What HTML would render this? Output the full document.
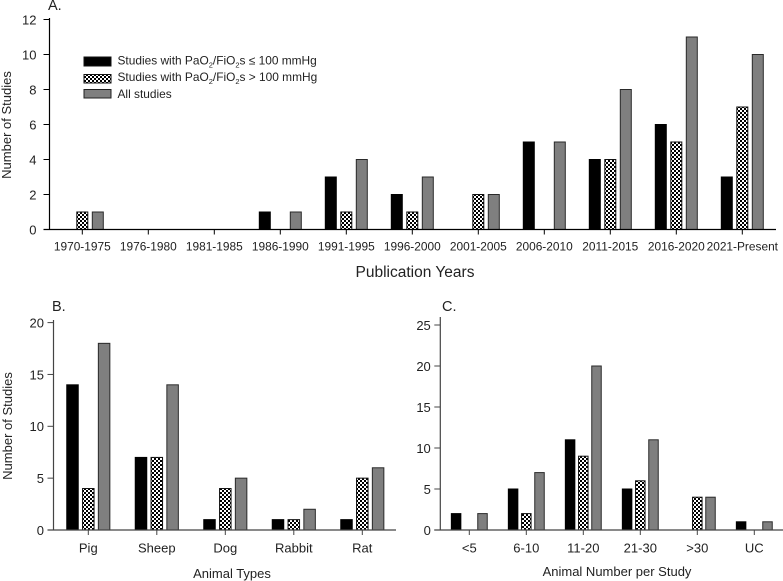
<!DOCTYPE html>
<html lang="en">
<head>
<meta charset="utf-8">
<title>Number of studies by publication year, animal type and animal number</title>
<style>
html,body{margin:0;padding:0;background:#fff;width:783px;height:581px;overflow:hidden}
svg{display:block;font-family:"Liberation Sans",Arial,sans-serif;fill:#222}
</style>
</head>
<body>
<svg id="chart" xmlns="http://www.w3.org/2000/svg" width="783" height="581" viewBox="0 0 783 581">
<defs>
<pattern id="hatch" width="4" height="4" patternUnits="userSpaceOnUse">
<rect width="4" height="4" fill="#fff"/>
<rect width="2" height="2" fill="#000"/>
<rect x="2" y="2" width="2" height="2" fill="#000"/>
</pattern>
</defs>
<g id="panels"></g>
<g>
<rect x="84" y="57" width="27" height="9" fill="#000" stroke="#111"/>
<text x="117.5" y="64.5" font-size="11.9">Studies with PaO<tspan font-size="7.5" dy="3">2</tspan><tspan dy="-3">/FiO</tspan><tspan font-size="7.5" dy="3">2</tspan><tspan dy="-3">s ≤ 100 mmHg</tspan></text>
<rect x="84" y="74.5" width="27" height="8.5" fill="url(#hatch)" stroke="#111"/>
<text x="117.5" y="81" font-size="11.9">Studies with PaO<tspan font-size="7.5" dy="3">2</tspan><tspan dy="-3">/FiO</tspan><tspan font-size="7.5" dy="3">2</tspan><tspan dy="-3">s &gt; 100 mmHg</tspan></text>
<rect x="84" y="89.5" width="27" height="8.5" fill="#7f7f7f" stroke="#222"/>
<text x="117.5" y="98" font-size="11.9">All studies</text>
</g>
</svg>
<script>
var yearCategories = ["1970-1975","1976-1980","1981-1985","1986-1990","1991-1995","1996-2000","2001-2005","2006-2010","2011-2015","2016-2020","2021-Present"];
var yearLow = [0,0,0,1,3,2,0,5,4,6,3];
var yearHigh = [1,0,0,0,1,1,2,0,4,5,7];
var yearAll = [1,0,0,1,4,3,2,5,8,11,10];
var yearTicks = [0,2,4,6,8,10,12];

var animalCategories = ["Pig","Sheep","Dog","Rabbit","Rat"];
var animalLow = [14,7,1,1,1];
var animalHigh = [4,7,4,1,5];
var animalAll = [18,14,5,2,6];
var animalTicks = [0,5,10,15,20];

var sizeCategories = ["<5","6-10","11-20","21-30",">30","UC"];
var sizeLow = [2,5,11,5,0,1];
var sizeHigh = [0,2,9,6,4,0];
var sizeAll = [2,7,20,11,4,1];
var sizeTicks = [0,5,10,15,20,25];

var NS = 'http://www.w3.org/2000/svg';

function make(parent, tag, attrs, text) {
  var el = document.createElementNS(NS, tag);
  for (var k in attrs) el.setAttribute(k, attrs[k]);
  if (text !== undefined) el.textContent = text;
  parent.appendChild(el);
  return el;
}

function drawPanel(cfg) {
  var g = make(document.getElementById('panels'), 'g', {});
  
  

  function yScale(v) { return cfg.y0 - v * cfg.unit; }
  function xScale(i) { return cfg.x0 + i * cfg.step; }

  var styles = [
    { key: 'low', values: cfg.low, fill: '#000', stroke: '#000', off: -cfg.offset },
    { key: 'high', values: cfg.high, fill: 'url(#hatch)', stroke: '#111', off: 0 },
    { key: 'all', values: cfg.all, fill: '#7f7f7f', stroke: '#2a2a2a', off: cfg.offset }
  ];

  styles.forEach(function (s) {
    s.values.forEach(function (v, i) {
      if (v <= 0) return;
      var bar = make(g, 'rect', {
        x: xScale(i) + s.off - cfg.barW / 2,
        y: yScale(v),
        width: cfg.barW,
        height: cfg.y0 - yScale(v),
        fill: s.fill,
        stroke: s.stroke,
        'stroke-width': 1
      });
      
      
    });
  });

  var yAxis = make(g, 'line', { x1: cfg.axisX, x2: cfg.axisX, y1: cfg.axisTop, y2: cfg.y0, stroke: cfg.axisColor, 'stroke-width': 1.2 });
  
  

  var xAxis = make(g, 'line', { x1: cfg.axisX - 6, x2: cfg.axisEnd, y1: cfg.y0, y2: cfg.y0, stroke: cfg.axisColor, 'stroke-width': 1.2 });
  
  

  cfg.ticks.forEach(function (t) {
    var y = yScale(t);
    make(g, 'line', { x1: cfg.axisX - 6, x2: cfg.axisX, y1: y, y2: y, stroke: cfg.axisColor, 'stroke-width': 1 });
    var label = make(g, 'text', { x: cfg.axisX - cfg.tickGap, y: y + 4.8, 'text-anchor': 'end', 'font-size': cfg.tickFont }, t);
    
    
  });

  cfg.categories.forEach(function (c, i) {
    var x = xScale(i);
    make(g, 'line', { x1: x, x2: x, y1: cfg.y0, y2: cfg.y0 + 5, stroke: cfg.axisColor, 'stroke-width': 1 });
    var label = make(g, 'text', { x: x, y: cfg.y0 + cfg.catDy, 'text-anchor': 'middle', 'font-size': cfg.catFont }, c);
    
    
  });

  var xTitle = make(g, 'text', { x: cfg.xTitleX, y: cfg.xTitleY, 'text-anchor': 'middle', 'font-size': cfg.xTitleFont }, cfg.xTitle);
  
  

  if (cfg.yTitle) {
    var yTitle = make(g, 'text', { transform: 'translate(' + cfg.yTitleX + ' ' + cfg.yTitleY + ') rotate(-90)', 'text-anchor': 'middle', 'font-size': 13 }, cfg.yTitle);
    
    
  }

  var panelLabel = make(g, 'text', { x: cfg.letterX, y: cfg.letterY, 'font-size': 14.5 }, cfg.letter);
  
  
}

drawPanel({
  name: 'panel-a-publication-years', categories: yearCategories, low: yearLow, high: yearHigh, all: yearAll, ticks: yearTicks,
  x0: 82.3, step: 66, offset: 15.5, barW: 11, y0: 229.5, unit: 17.5,
  axisX: 49.5, axisTop: 18, axisEnd: 776, axisColor: '#000',
  tickGap: 13, tickFont: 13, catFont: 11.9, catDy: 21,
  xTitle: 'Publication Years', xTitleX: 415, xTitleY: 277, xTitleFont: 15.5,
  yTitle: 'Number of Studies', yTitleX: 11, yTitleY: 125,
  letter: 'A.', letterX: 48, letterY: 10
});

drawPanel({
  name: 'panel-b-animal-types', categories: animalCategories, low: animalLow, high: animalHigh, all: animalAll, ticks: animalTicks,
  x0: 88.3, step: 68.5, offset: 15.8, barW: 11.5, y0: 530, unit: 10.37,
  axisX: 53.5, axisTop: 320, axisEnd: 396, axisColor: '#444',
  tickGap: 9.5, tickFont: 13, catFont: 13, catDy: 22.5,
  xTitle: 'Animal Types', xTitleX: 232, xTitleY: 578, xTitleFont: 13,
  yTitle: 'Number of Studies', yTitleX: 12, yTitleY: 426,
  letter: 'B.', letterX: 52, letterY: 311
});

drawPanel({
  name: 'panel-c-animal-number', categories: sizeCategories, low: sizeLow, high: sizeHigh, all: sizeAll, ticks: sizeTicks,
  x0: 469.3, step: 57, offset: 13.2, barW: 9.5, y0: 530, unit: 8.2,
  axisX: 440.3, axisTop: 317, axisEnd: 783, axisColor: '#444',
  tickGap: 9.5, tickFont: 13, catFont: 13, catDy: 22.5,
  xTitle: 'Animal Number per Study', xTitleX: 617, xTitleY: 576, xTitleFont: 13,
  yTitle: '', yTitleX: 0, yTitleY: 0,
  letter: 'C.', letterX: 442, letterY: 311
});
</script>
</body>
</html>
